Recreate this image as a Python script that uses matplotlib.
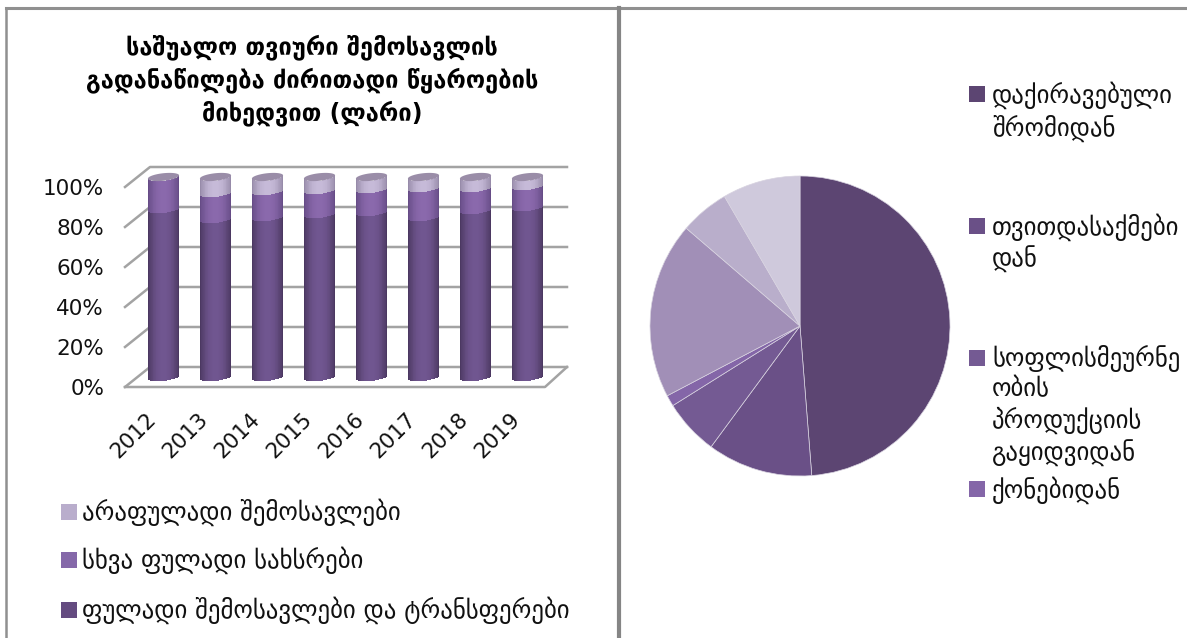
import numpy as np
import matplotlib
matplotlib.use("Agg")
import matplotlib.pyplot as plt
import matplotlib.patches as mpatches
from matplotlib.colors import LinearSegmentedColormap
from matplotlib.transforms import ScaledTranslation

W, H = 1187, 638

plt.rcParams["font.family"] = ["DejaVu Sans"]

years = ["2012", "2013", "2014", "2015", "2016", "2017", "2018", "2019"]
money_income = [84, 79, 80, 81.5, 82.5, 80, 83.5, 85]
other_money = [16, 13, 13, 12, 11.5, 14.5, 11, 10.5]
non_money = [0, 8, 7, 6.5, 6, 5.5, 5.5, 4.5]
y_ticks = [0, 20, 40, 60, 80, 100]
y_labels = ["0%", "20%", "40%", "60%", "80%", "100%"]

bar_title = "საშუალო თვიური შემოსავლის\nგადანაწილება ძირითადი წყაროების\nმიხედვით (ლარი)"
bar_legend = ["არაფულადი შემოსავლები", "სხვა ფულადი სახსრები", "ფულადი შემოსავლები და ტრანსფერები"]

pie_values = [48.75, 11.35, 6.0, 1.2, 19.0, 5.3, 8.4]
pie_colors = ["#5C4572", "#6A5087", "#745A93", "#8466A8", "#A18FB7", "#B9AECB", "#CFC9DC"]
pie_legend = ["დაქირავებული\nშრომიდან", "თვითდასაქმები\nდან",
              "სოფლისმეურნე\nობის\nპროდუქციის\nგაყიდვიდან", "ქონებიდან"]

LINE = "#A3A3A3"
TEXT = "#111111"


def px_axes(fig, left, top, right, bottom, **kw):
    # axes box given in image pixels, y down
    return fig.add_axes([left / W, 1 - bottom / H, (right - left) / W, (bottom - top) / H], **kw)


fig = plt.figure(figsize=(W / 100, H / 100), dpi=100, facecolor="white")

# overlay in pixel coords for frame and legends
bg = px_axes(fig, 0, 0, W, H)
bg.set_xlim(0, W)
bg.set_ylim(H, 0)
bg.axis("off")
bg.plot([5.5, 5.5], [8, H], color="#909090", lw=1.8)
bg.plot([5.5, W], [8, 8], color="#909090", lw=2.2)
bg.plot([619, 619], [8, H], color="#858585", lw=3)

bg.text(312, 80, bar_title, ha="center", va="center", fontsize=17, fontweight="bold",
        color="black", linespacing=1.36)

for label, color, y in zip(bar_legend, ["#B9ADCC", "#8568A9", "#644B80"], [512, 560, 610]):
    bg.add_patch(mpatches.Rectangle((61, y - 8), 16, 16, color=color, lw=0))
    bg.text(82, y, label, va="center", fontsize=17.8, color=TEXT)

for label, color, y in zip(pie_legend, pie_colors[:4], [94, 226, 358, 489]):
    bg.add_patch(mpatches.Rectangle((969, y - 8), 16, 16, color=color, lw=0))
    bg.text(992, y - 13, label, va="top", fontsize=17.8, color=TEXT, linespacing=1.27)

# ── cylinder chart ───────────────────────────────────────────
# front plane 125..545 px, back wall shifted by 25 px / 10%
x_per_px = 1 / 52
x0 = (125 - 163.5) * x_per_px
x1 = (567 - 163.5) * x_per_px
depth = 25 * x_per_px
front_end = (545 - 163.5) * x_per_px

ax = px_axes(fig, 125, 167, 567, 387)
ax.patch.set_alpha(0)
ax.set_xlim(x0, x1)
ax.set_ylim(0, 110)
for s in ax.spines.values():
    s.set_visible(False)

for t in y_ticks:
    ax.plot([x0, x0 + depth, x1], [t, t + 10, t + 10], color=LINE, lw=1.8, zorder=1, clip_on=False)
ax.plot([x0, front_end, x1], [0, 0, 10], color=LINE, lw=1.8, zorder=1, clip_on=False)

ax.set_yticks(y_ticks)
ax.set_yticklabels(y_labels, fontsize=15.5, color=TEXT)
ax.tick_params(axis="y", length=0, pad=15)
xpos = np.arange(len(years))
ax.set_xticks(xpos)
ax.set_xticklabels(years, fontsize=15.5, color=TEXT, rotation=45, ha="right", rotation_mode="anchor")
ax.tick_params(axis="x", length=0, pad=16)
for lab in ax.get_xticklabels():
    lab.set_transform(lab.get_transform() + ScaledTranslation(-18 / 100, 0, fig.dpi_scale_trans))

half = 0.3
ell = 1.9
tilt = 0.8
base = 5
u = np.linspace(-1, 1, 41)
um = (u[:-1] + u[1:]) / 2
shade = 1 - np.abs(um) ** 2.2

cmaps = [
    LinearSegmentedColormap.from_list("dark", ["#49365E", "#705690"]),
    LinearSegmentedColormap.from_list("mid", ["#644A84", "#8A69AC"]),
    LinearSegmentedColormap.from_list("light", ["#9488A6", "#C6BAD8"]),
]
curve = -ell * np.sqrt(1 - u ** 2) + tilt * u

for i in xpos:
    start = 0
    for vals, cmap in zip([money_income, other_money, non_money], cmaps):
        v = vals[i]
        if v > 0:
            X = np.vstack([i + half * u, i + half * u])
            Y = np.vstack([base + start + curve, base + start + v + curve])
            ax.pcolormesh(X, Y, shade[None, :], cmap=cmap, vmin=0, vmax=1, zorder=3, shading="flat")
        start += v
    # top cap
    a = np.linspace(0, 2 * np.pi, 60)
    ax.fill(i + half * np.cos(a), base + 100 + ell * np.sin(a) + tilt * np.cos(a),
            color="#9A8DA8", lw=0, zorder=4)

# ── pie ──────────────────────────────────────────────────────
ax2 = px_axes(fig, 650, 176, 950, 476)
ax2.pie(pie_values, colors=pie_colors, startangle=90, counterclock=False, radius=1,
        wedgeprops={"edgecolor": "#D8D3E0", "linewidth": 0.5})
ax2.set_xlim(-1, 1)
ax2.set_ylim(-1, 1)

fig.savefig("out.png", dpi=100)
